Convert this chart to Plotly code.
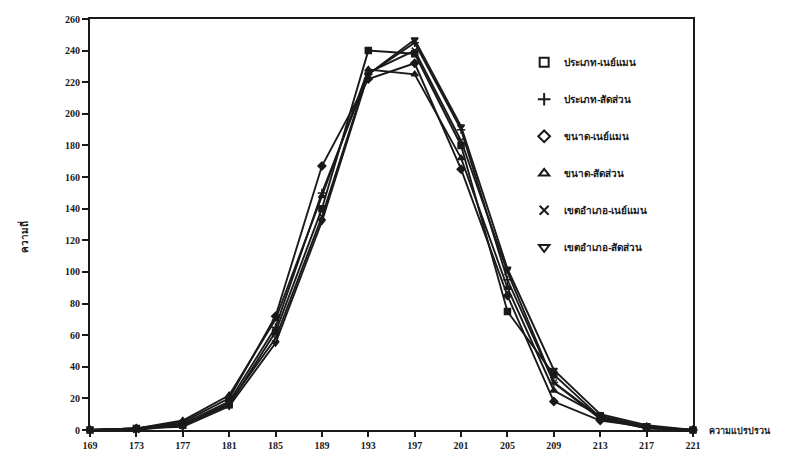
import plotly.graph_objects as go

x_vals = [169, 173, 177, 181, 185, 189, 193, 197, 201, 205, 209, 213, 217, 221]
tick_vals = x_vals
y_ticks = list(range(0, 261, 20))

names = ["ประเภท-เนย์แมน", "ประเภท-สัดส่วน", "ขนาด-เนย์แมน",
         "ขนาด-สัดส่วน", "เขตอำเภอ-เนย์แมน", "เขตอำเภอ-สัดส่วน"]
symbols = ["square-open", "cross-thin-open", "diamond-open",
           "triangle-up-open", "x-thin-open", "triangle-down-open"]

s_type_neyman = [0, 1, 3, 16, 62, 140, 240, 238, 180, 75, 35, 8, 2, 0]
s_type_prop = [0, 1, 4, 18, 65, 150, 225, 245, 190, 95, 30, 7, 1, 0]
s_size_neyman = [0, 1, 5, 20, 72, 167, 222, 232, 165, 85, 18, 6, 2, 0]
s_size_prop = [0, 1, 6, 22, 70, 148, 228, 225, 172, 90, 25, 9, 2, 0]
s_dist_neyman = [0, 0, 3, 17, 58, 135, 226, 240, 183, 100, 30, 8, 1, 0]
s_dist_prop = [0, 1, 2, 15, 55, 132, 225, 247, 192, 102, 38, 10, 3, 0]

series = [s_type_neyman, s_type_prop, s_size_neyman, s_size_prop, s_dist_neyman, s_dist_prop]

fig = go.Figure()
for i, (nm, sym, ys) in enumerate(zip(names, symbols, series)):
    fig.add_trace(go.Scatter(
        x=x_vals, y=ys, mode="lines+markers", showlegend=False,
        line=dict(color="#1a1a1a", width=1.9),
        marker=dict(symbol=sym.replace("-open", "") if "thin" not in sym else sym,
                    size=6, color="#1a1a1a", line=dict(color="#1a1a1a", width=1.5)),
        cliponaxis=False,
    ))
for i, (nm, sym) in enumerate(zip(names, symbols)):
    fig.add_trace(go.Scatter(
        x=[None], y=[None], mode="markers", name=nm, legendgroup=f"g{i}",
        marker=dict(symbol=sym, size=9, color="#1a1a1a", line=dict(color="#1a1a1a", width=2)),
    ))

fig.update_layout(
    width=796, height=462,
    margin=dict(l=82, r=111, t=5, b=40),
    paper_bgcolor="white", plot_bgcolor="white",
    font=dict(family="Liberation Serif, Noto Sans, DejaVu Sans", size=10, color="#1a1a1a"),
    showlegend=True,
    legend=dict(x=0.72, y=0.93, xanchor="left", yanchor="top",
                bgcolor="rgba(0,0,0,0)", tracegroupgap=18,
                font=dict(size=10, family="Noto Sans, DejaVu Sans", color="#1a1a1a", weight="bold")),
    xaxis=dict(range=[169, 221], tickvals=tick_vals, ticks="outside", ticklen=5,
               tickwidth=1.5, tickcolor="#1a1a1a", showgrid=False, zeroline=False,
               showline=True, linecolor="#1a1a1a", linewidth=2, mirror=True,
               tickfont=dict(size=10, family="Liberation Serif", weight="bold")),
    yaxis=dict(range=[0, 260], tickvals=y_ticks, ticks="outside", ticklen=6,
               tickwidth=1.5, tickcolor="#1a1a1a", showgrid=False, zeroline=False,
               showline=True, linecolor="#1a1a1a", linewidth=2, mirror=True,
               tickfont=dict(size=10, family="Liberation Serif", weight="bold")),
    annotations=[
        dict(text="ความแปรปรวน", x=1.0, y=0, xref="paper", yref="paper",
             xanchor="left", yanchor="middle", xshift=14, showarrow=False,
             font=dict(size=9, family="Noto Sans, DejaVu Sans", weight="bold")),
        dict(text="ความถี่", x=0, y=0.47, xref="paper", yref="paper",
             xanchor="center", yanchor="middle", xshift=-66, textangle=-90,
             showarrow=False, font=dict(size=10, family="Noto Sans, DejaVu Sans", weight="bold")),
    ],
)

fig.write_html("out.html")
